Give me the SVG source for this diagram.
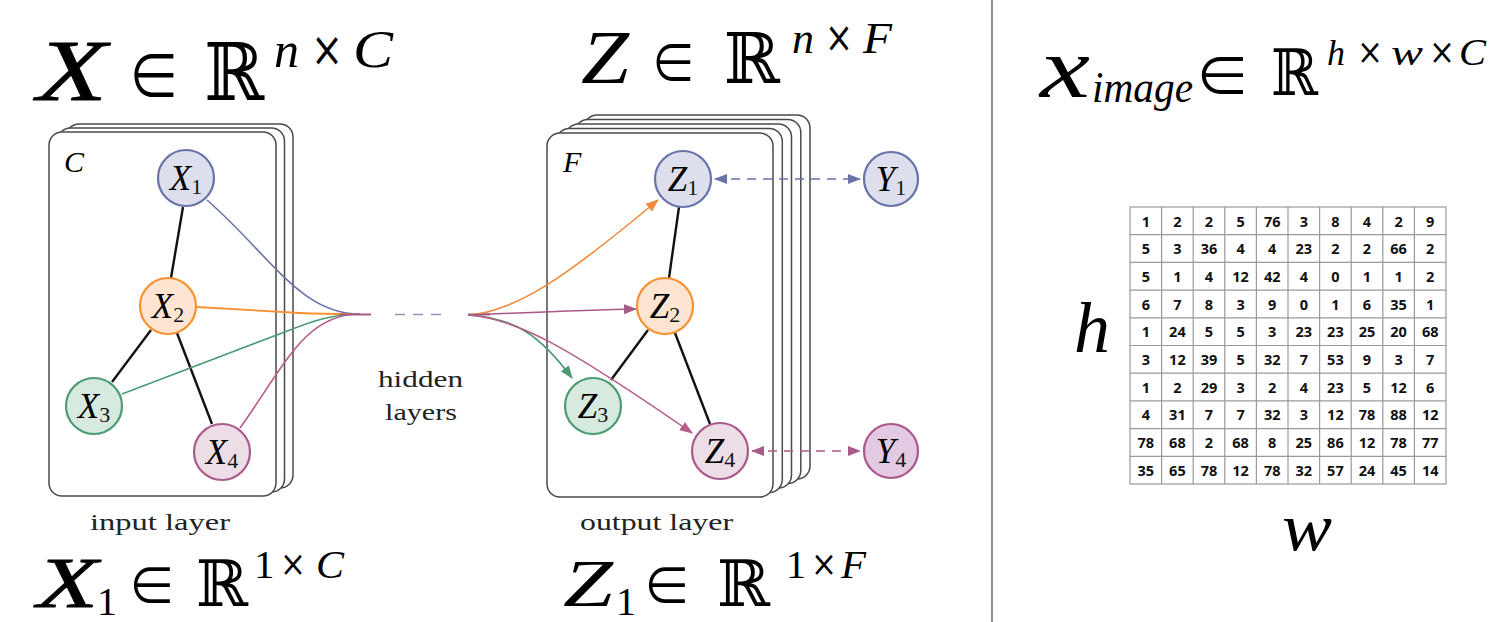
<svg xmlns="http://www.w3.org/2000/svg" width="1501" height="622" viewBox="0 0 1501 622">
<style>
.card{fill:#fff;stroke:#4a4a4a;stroke-width:1.5}
.mi{font-family:"Liberation Serif",serif;font-style:italic;fill:#000}
.bx{stroke:#000;stroke-width:0.8}
.rm{font-family:"Liberation Serif",serif;fill:#000}
.sym{font-family:"DejaVu Serif","DejaVu Sans",serif;fill:#000}
.el{font-family:"Noto Sans CJK JP","DejaVu Sans",sans-serif;fill:#000}
.lbl{font-family:"Liberation Serif",serif;fill:#222;font-size:24px}
.nl{font-family:"Liberation Serif",serif;fill:#111}
.edge{stroke:#111;stroke-width:2.4;fill:none}
.cell{font-family:"Open Sans","DejaVu Sans",sans-serif;font-weight:bold;font-size:14.5px;text-anchor:middle;fill:#111}
.grid{stroke:#9a9a9a;stroke-width:1.2;fill:none}
.nb{stroke-width:2.2}
.blue{fill:#dde0ec;stroke:#6873a8}
.orange{fill:#fde5d1;stroke:#f7902f}
.green{fill:#d6eadf;stroke:#4b9a73}
.pink{fill:#ecdde7;stroke:#a9598a}
.pink2{fill:#e3c9e2;stroke:#a9598a}
</style>
<defs>
<marker id="aO" markerWidth="14" markerHeight="12" refX="12" refY="5" orient="auto" markerUnits="userSpaceOnUse"><path d="M0,0 L13,5 L0,10 Z" fill="#f0883a"/></marker>
<marker id="aP" markerWidth="14" markerHeight="12" refX="12" refY="5" orient="auto" markerUnits="userSpaceOnUse"><path d="M0,0 L13,5 L0,10 Z" fill="#a85a86"/></marker>
<marker id="aG" markerWidth="14" markerHeight="12" refX="12" refY="5" orient="auto" markerUnits="userSpaceOnUse"><path d="M0,0 L13,5 L0,10 Z" fill="#4b9a73"/></marker>
<marker id="aK" markerWidth="14" markerHeight="12" refX="12" refY="5" orient="auto" markerUnits="userSpaceOnUse"><path d="M0,0 L13,5 L0,10 Z" fill="#b55c8c"/></marker>
<marker id="aB" markerWidth="14" markerHeight="12" refX="12" refY="5" orient="auto-start-reverse" markerUnits="userSpaceOnUse"><path d="M0,0 L13,5 L0,10 Z" fill="#6873a8"/></marker>
<marker id="aV" markerWidth="14" markerHeight="12" refX="12" refY="5" orient="auto-start-reverse" markerUnits="userSpaceOnUse"><path d="M0,0 L13,5 L0,10 Z" fill="#a9598a"/></marker>
</defs>
<rect width="1501" height="622" fill="#fff"/>

<!-- divider -->
<line x1="992" y1="0" x2="992" y2="622" stroke="#444" stroke-width="1.2"/>

<!-- top formulas -->
<g id="formula-X">
<text class="mi bx" x="37" y="100" font-size="86" textLength="70" lengthAdjust="spacingAndGlyphs">X</text>
<text class="el" x="128" y="100" font-size="66" textLength="52" lengthAdjust="spacingAndGlyphs">∈</text>
<text class="sym" x="204" y="100" font-size="80" textLength="60" lengthAdjust="spacingAndGlyphs">ℝ</text>
<text class="mi" x="274" y="67" font-size="50">n</text>
<text class="sym" x="311" y="66" font-size="48" textLength="32" lengthAdjust="spacingAndGlyphs">×</text>
<text class="mi" x="353" y="67" font-size="52" textLength="40" lengthAdjust="spacingAndGlyphs">C</text>
</g>
<g id="formula-Z">
<text class="mi" x="581" y="83" font-size="77" textLength="48" lengthAdjust="spacingAndGlyphs">Z</text>
<text class="el" x="651" y="83" font-size="56" textLength="45" lengthAdjust="spacingAndGlyphs">∈</text>
<text class="sym" x="724" y="83" font-size="70" textLength="56" lengthAdjust="spacingAndGlyphs">ℝ</text>
<text class="mi" x="792" y="53" font-size="44">n</text>
<text class="sym" x="825" y="52" font-size="42" textLength="28" lengthAdjust="spacingAndGlyphs">×</text>
<text class="mi" x="863" y="53" font-size="44" textLength="29" lengthAdjust="spacingAndGlyphs">F</text>
</g>
<g id="formula-ximage">
<text class="mi" x="1040" y="97" font-size="86" textLength="50" lengthAdjust="spacingAndGlyphs">x</text>
<text class="mi" x="1092" y="102" font-size="44" textLength="101" lengthAdjust="spacingAndGlyphs">image</text>
<text class="el" x="1195" y="96" font-size="56" textLength="55" lengthAdjust="spacingAndGlyphs">∈</text>
<text class="sym" x="1271" y="95" font-size="64" textLength="47" lengthAdjust="spacingAndGlyphs">ℝ</text>
<text class="mi" x="1327" y="65" font-size="36">h</text>
<text class="sym" x="1357" y="64" font-size="36" textLength="26" lengthAdjust="spacingAndGlyphs">×</text>
<text class="mi" x="1391" y="65" font-size="36" textLength="32" lengthAdjust="spacingAndGlyphs">w</text>
<text class="sym" x="1429" y="64" font-size="36" textLength="26" lengthAdjust="spacingAndGlyphs">×</text>
<text class="mi" x="1459" y="65" font-size="38" textLength="27" lengthAdjust="spacingAndGlyphs">C</text>
</g>

<!-- bottom formulas -->
<g id="formula-X1">
<text class="mi bx" x="37" y="607" font-size="72" textLength="61" lengthAdjust="spacingAndGlyphs">X</text>
<text class="rm" x="97" y="615" font-size="40">1</text>
<text class="el" x="128" y="606" font-size="54" textLength="48" lengthAdjust="spacingAndGlyphs">∈</text>
<text class="sym" x="196" y="606" font-size="64" textLength="52" lengthAdjust="spacingAndGlyphs">ℝ</text>
<text class="rm" x="254" y="578" font-size="41">1</text>
<text class="sym" x="280" y="576" font-size="36" textLength="26" lengthAdjust="spacingAndGlyphs">×</text>
<text class="mi" x="316" y="578" font-size="40" textLength="28" lengthAdjust="spacingAndGlyphs">C</text>
</g>
<g id="formula-Z1">
<text class="mi" x="563" y="606" font-size="68" textLength="50" lengthAdjust="spacingAndGlyphs">Z</text>
<text class="rm" x="616" y="615" font-size="40">1</text>
<text class="el" x="643" y="606" font-size="54" textLength="48" lengthAdjust="spacingAndGlyphs">∈</text>
<text class="sym" x="717" y="606" font-size="64" textLength="53" lengthAdjust="spacingAndGlyphs">ℝ</text>
<text class="rm" x="786" y="578" font-size="40">1</text>
<text class="sym" x="811" y="576" font-size="36" textLength="26" lengthAdjust="spacingAndGlyphs">×</text>
<text class="mi" x="841" y="578" font-size="40" textLength="25" lengthAdjust="spacingAndGlyphs">F</text>
</g>

<!-- card stacks -->
<g id="input-cards">
<rect class="card" x="66" y="124" width="227" height="364" rx="13"/>
<rect class="card" x="57.5" y="128" width="227" height="364" rx="13"/>
<rect class="card" x="49" y="132" width="227" height="364" rx="13"/>
<text class="mi" x="64" y="172" font-size="30">C</text>
</g>
<g id="output-cards">
<rect class="card" x="584" y="115" width="226" height="364" rx="13"/>
<rect class="card" x="574.8" y="119.5" width="226" height="364" rx="13"/>
<rect class="card" x="565.5" y="124" width="226" height="364" rx="13"/>
<rect class="card" x="556.3" y="128.5" width="226" height="364" rx="13"/>
<rect class="card" x="547" y="133" width="226" height="364" rx="13"/>
<text class="mi" x="563" y="172" font-size="30">F</text>
</g>

<text class="lbl" x="90" y="530" textLength="140" lengthAdjust="spacingAndGlyphs">input layer</text>
<text class="lbl" x="580" y="530" textLength="153" lengthAdjust="spacingAndGlyphs">output layer</text>
<text class="lbl" x="378" y="387" font-size="25" textLength="85" lengthAdjust="spacingAndGlyphs">hidden</text>
<text class="lbl" x="385" y="420" font-size="25" textLength="72" lengthAdjust="spacingAndGlyphs">layers</text>

<!-- connectors -->
<g id="connectors">
<line class="edge" x1="183" y1="207" x2="171" y2="278"/>
<line class="edge" x1="151" y1="330" x2="112" y2="382"/>
<line class="edge" x1="177" y1="333" x2="212" y2="424"/>
<line class="edge" x1="679" y1="207" x2="669" y2="278"/>
<line class="edge" x1="648" y1="330" x2="611" y2="380"/>
<line class="edge" x1="675" y1="333" x2="710" y2="424"/>

<path d="M207,200 C270,255 300,314 360,314" fill="none" stroke="#6873a8" stroke-width="1.6"/>
<path d="M196,307 L300,313 C320,314 340,314 360,314" fill="none" stroke="#f7902f" stroke-width="1.8"/>
<path d="M122,394 L290,330 C315,320 335,314 360,314" fill="none" stroke="#4b9a73" stroke-width="1.6"/>
<path d="M240,428 C285,365 305,314 360,314" fill="none" stroke="#b55c8c" stroke-width="1.6"/>
<line x1="340" y1="314.5" x2="371" y2="314.5" stroke="#a85a86" stroke-width="2"/>
<line x1="395" y1="314.5" x2="445" y2="314.5" stroke="#8d95bb" stroke-width="1.6" stroke-dasharray="10,8"/>
<line x1="468" y1="314.5" x2="490" y2="314.5" stroke="#a85a86" stroke-width="2"/>

<path d="M468,315 C515,312 565,278 658,200" fill="none" stroke="#f0883a" stroke-width="1.6" marker-end="url(#aO)"/>
<path d="M468,315 C515,318 540,335 572,378" fill="none" stroke="#4b9a73" stroke-width="1.6" marker-end="url(#aG)"/>
<path d="M468,315 C515,318 565,345 692,433" fill="none" stroke="#b55c8c" stroke-width="1.6" marker-end="url(#aK)"/>
<path d="M468,315 C520,313 580,310 636,309" fill="none" stroke="#a85a86" stroke-width="1.6" marker-end="url(#aP)"/>

<line x1="715" y1="179" x2="860" y2="179" stroke="#6873a8" stroke-width="1.6" stroke-dasharray="9,7" marker-start="url(#aB)" marker-end="url(#aB)"/>
<line x1="752" y1="451" x2="860" y2="451" stroke="#a9598a" stroke-width="1.6" stroke-dasharray="9,7" marker-start="url(#aV)" marker-end="url(#aV)"/>
</g>

<!-- nodes -->
<g id="X1"><circle class="nb blue" cx="186" cy="178" r="28"/><text class="nl" x="186" y="190" text-anchor="middle"><tspan class="mi" font-size="35">X</tspan><tspan font-size="22" dy="4">1</tspan></text></g>
<g id="X2"><circle class="nb orange" cx="168" cy="306" r="28"/><text class="nl" x="168" y="318" text-anchor="middle"><tspan class="mi" font-size="35">X</tspan><tspan font-size="22" dy="4">2</tspan></text></g>
<g id="X3"><circle class="nb green" cx="94" cy="406" r="28"/><text class="nl" x="94" y="418" text-anchor="middle"><tspan class="mi" font-size="35">X</tspan><tspan font-size="22" dy="4">3</tspan></text></g>
<g id="X4"><circle class="nb pink" cx="222" cy="452" r="28"/><text class="nl" x="222" y="464" text-anchor="middle"><tspan class="mi" font-size="35">X</tspan><tspan font-size="22" dy="4">4</tspan></text></g>

<g id="Z1"><circle class="nb blue" cx="683" cy="179" r="28"/><text class="nl" x="683" y="191" text-anchor="middle"><tspan class="mi" font-size="35">Z</tspan><tspan font-size="22" dy="4">1</tspan></text></g>
<g id="Z2"><circle class="nb orange" cx="665" cy="306" r="28"/><text class="nl" x="665" y="318" text-anchor="middle"><tspan class="mi" font-size="35">Z</tspan><tspan font-size="22" dy="4">2</tspan></text></g>
<g id="Z3"><circle class="nb green" cx="593" cy="406" r="28"/><text class="nl" x="593" y="418" text-anchor="middle"><tspan class="mi" font-size="35">Z</tspan><tspan font-size="22" dy="4">3</tspan></text></g>
<g id="Z4"><circle class="nb pink" cx="720" cy="451" r="28"/><text class="nl" x="720" y="463" text-anchor="middle"><tspan class="mi" font-size="35">Z</tspan><tspan font-size="22" dy="4">4</tspan></text></g>
<g id="Y1"><circle class="nb blue" cx="891" cy="179" r="27"/><text class="nl" x="891" y="191" text-anchor="middle"><tspan class="mi" font-size="35">Y</tspan><tspan font-size="22" dy="4">1</tspan></text></g>
<g id="Y4"><circle class="nb pink2" cx="891" cy="451" r="27"/><text class="nl" x="891" y="463" text-anchor="middle"><tspan class="mi" font-size="35">Y</tspan><tspan font-size="22" dy="4">4</tspan></text></g>

<!-- image matrix -->
<g id="matrix">
<rect class="grid" x="1130" y="207" width="316" height="277"/>
<path class="grid" d="M1161.6,207V484M1193.2,207V484M1224.8,207V484M1256.4,207V484M1288,207V484M1319.6,207V484M1351.2,207V484M1382.8,207V484M1414.4,207V484M1130,234.7H1446M1130,262.4H1446M1130,290.1H1446M1130,317.8H1446M1130,345.5H1446M1130,373.2H1446M1130,400.9H1446M1130,428.6H1446M1130,456.3H1446"/>
<g class="cell">
<text y="226.5"><tspan x="1145.8">1</tspan><tspan x="1177.4">2</tspan><tspan x="1209">2</tspan><tspan x="1240.6">5</tspan><tspan x="1272.2">76</tspan><tspan x="1303.8">3</tspan><tspan x="1335.4">8</tspan><tspan x="1367">4</tspan><tspan x="1398.6">2</tspan><tspan x="1430.2">9</tspan></text>
<text y="254.2"><tspan x="1145.8">5</tspan><tspan x="1177.4">3</tspan><tspan x="1209">36</tspan><tspan x="1240.6">4</tspan><tspan x="1272.2">4</tspan><tspan x="1303.8">23</tspan><tspan x="1335.4">2</tspan><tspan x="1367">2</tspan><tspan x="1398.6">66</tspan><tspan x="1430.2">2</tspan></text>
<text y="281.9"><tspan x="1145.8">5</tspan><tspan x="1177.4">1</tspan><tspan x="1209">4</tspan><tspan x="1240.6">12</tspan><tspan x="1272.2">42</tspan><tspan x="1303.8">4</tspan><tspan x="1335.4">0</tspan><tspan x="1367">1</tspan><tspan x="1398.6">1</tspan><tspan x="1430.2">2</tspan></text>
<text y="309.6"><tspan x="1145.8">6</tspan><tspan x="1177.4">7</tspan><tspan x="1209">8</tspan><tspan x="1240.6">3</tspan><tspan x="1272.2">9</tspan><tspan x="1303.8">0</tspan><tspan x="1335.4">1</tspan><tspan x="1367">6</tspan><tspan x="1398.6">35</tspan><tspan x="1430.2">1</tspan></text>
<text y="337.3"><tspan x="1145.8">1</tspan><tspan x="1177.4">24</tspan><tspan x="1209">5</tspan><tspan x="1240.6">5</tspan><tspan x="1272.2">3</tspan><tspan x="1303.8">23</tspan><tspan x="1335.4">23</tspan><tspan x="1367">25</tspan><tspan x="1398.6">20</tspan><tspan x="1430.2">68</tspan></text>
<text y="365"><tspan x="1145.8">3</tspan><tspan x="1177.4">12</tspan><tspan x="1209">39</tspan><tspan x="1240.6">5</tspan><tspan x="1272.2">32</tspan><tspan x="1303.8">7</tspan><tspan x="1335.4">53</tspan><tspan x="1367">9</tspan><tspan x="1398.6">3</tspan><tspan x="1430.2">7</tspan></text>
<text y="392.7"><tspan x="1145.8">1</tspan><tspan x="1177.4">2</tspan><tspan x="1209">29</tspan><tspan x="1240.6">3</tspan><tspan x="1272.2">2</tspan><tspan x="1303.8">4</tspan><tspan x="1335.4">23</tspan><tspan x="1367">5</tspan><tspan x="1398.6">12</tspan><tspan x="1430.2">6</tspan></text>
<text y="420.4"><tspan x="1145.8">4</tspan><tspan x="1177.4">31</tspan><tspan x="1209">7</tspan><tspan x="1240.6">7</tspan><tspan x="1272.2">32</tspan><tspan x="1303.8">3</tspan><tspan x="1335.4">12</tspan><tspan x="1367">78</tspan><tspan x="1398.6">88</tspan><tspan x="1430.2">12</tspan></text>
<text y="448.1"><tspan x="1145.8">78</tspan><tspan x="1177.4">68</tspan><tspan x="1209">2</tspan><tspan x="1240.6">68</tspan><tspan x="1272.2">8</tspan><tspan x="1303.8">25</tspan><tspan x="1335.4">86</tspan><tspan x="1367">12</tspan><tspan x="1398.6">78</tspan><tspan x="1430.2">77</tspan></text>
<text y="475.8"><tspan x="1145.8">35</tspan><tspan x="1177.4">65</tspan><tspan x="1209">78</tspan><tspan x="1240.6">12</tspan><tspan x="1272.2">78</tspan><tspan x="1303.8">32</tspan><tspan x="1335.4">57</tspan><tspan x="1367">24</tspan><tspan x="1398.6">45</tspan><tspan x="1430.2">14</tspan></text>
</g>
</g>
<text class="mi" x="1074" y="352" font-size="72">h</text>
<text class="mi" x="1282" y="550" font-size="68" textLength="50" lengthAdjust="spacingAndGlyphs">w</text>
</svg>
